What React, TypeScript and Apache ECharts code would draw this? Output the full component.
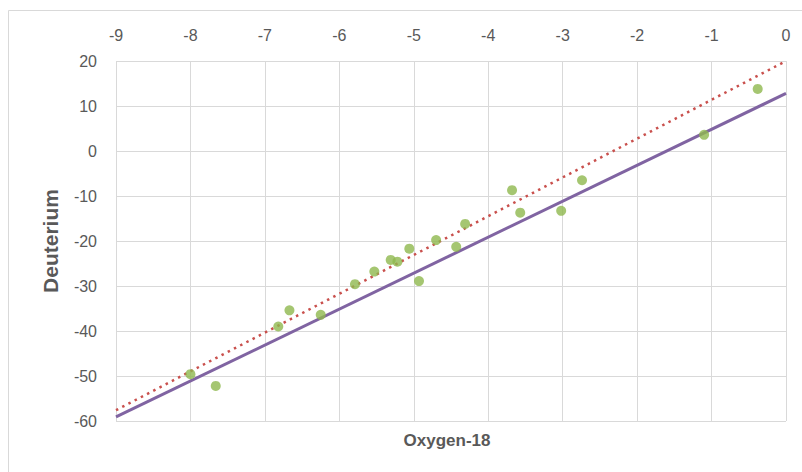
import React, { useEffect, useRef } from "react";
import * as echarts from "echarts";

// Oxygen-18 vs Deuterium samples
const oxygen18 = [
  -8.0, -7.66, -6.82, -6.67, -6.25, -5.79, -5.53, -5.31, -5.22, -5.06,
  -4.93, -4.7, -4.43, -4.31, -3.68, -3.57, -3.02, -2.74, -1.1, -0.38,
];
const deuterium = [
  -49.6, -52.2, -39.0, -35.4, -36.4, -29.6, -26.8, -24.2, -24.6, -21.7,
  -28.9, -19.8, -21.3, -16.2, -8.7, -13.7, -13.3, -6.5, 3.6, 13.8,
];

// Reference lines given by their end points
const solidLineX = [-9, 0];
const solidLineY = [-59.1, 12.8];
const dottedLineX = [-9, 0];
const dottedLineY = [-57.6, 20];

const xTicks = { min: -9, max: 0, step: 1 };
const yTicks = { min: -60, max: 20, step: 10 };

const labelGrey = "#595959";
const gridGrey = "#d9d9d9";

export default function App() {
  const ref = useRef<HTMLDivElement>(null);

  useEffect(() => {
    if (!ref.current) return;
    const chart = echarts.init(ref.current, undefined, { renderer: "svg" });
    const font = "'Liberation Sans', Arial, sans-serif";

    chart.setOption({
      animation: false,
      backgroundColor: "#ffffff",
      grid: { left: 116, right: 16, top: 61, bottom: 51 },
      xAxis: {
        type: "value",
        position: "top",
        min: xTicks.min,
        max: xTicks.max,
        interval: xTicks.step,
        axisLine: { show: false },
        axisTick: { show: false },
        axisLabel: { color: labelGrey, fontSize: 16, fontFamily: font, margin: 18 },
        splitLine: { show: true, lineStyle: { color: gridGrey, width: 1 } },
      },
      yAxis: {
        type: "value",
        min: yTicks.min,
        max: yTicks.max,
        interval: yTicks.step,
        axisLine: { show: false },
        axisTick: { show: false },
        axisLabel: { color: labelGrey, fontSize: 16, fontFamily: font, margin: 19 },
        splitLine: { show: true, lineStyle: { color: gridGrey, width: 1 } },
        name: "Deuterium",
        nameLocation: "middle",
        nameRotate: 90,
        nameGap: 55,
        nameTextStyle: {
          color: labelGrey,
          fontSize: 21,
          fontWeight: "bold",
          fontFamily: font,
        },
      },
      graphic: [
        {
          type: "rect",
          shape: { x: 8.5, y: 10.5, width: 800, height: 470 },
          style: { fill: "none", stroke: gridGrey, lineWidth: 1 },
          silent: true,
        },
        {
          type: "text",
          x: 447,
          y: 440,
          style: {
            text: "Oxygen-18",
            fill: labelGrey,
            fontSize: 17,
            fontWeight: "bold",
            fontFamily: font,
            textAlign: "center",
            textVerticalAlign: "middle",
          },
        },
      ],
      series: [
        {
          type: "line",
          data: dottedLineX.map((x, i) => [x, dottedLineY[i]]),
          symbol: "none",
          lineStyle: { color: "#C9504D", width: 2.5, type: [2.5, 4.5] },
          z: 3,
        },
        {
          type: "line",
          data: solidLineX.map((x, i) => [x, solidLineY[i]]),
          symbol: "none",
          lineStyle: { color: "#8064A2", width: 3 },
          z: 3,
        },
        {
          type: "scatter",
          data: oxygen18.map((x, i) => [x, deuterium[i]]),
          symbol: "circle",
          symbolSize: 10,
          itemStyle: { color: "#8FB84E" },
          z: 4,
        },
      ],
    });

    return () => chart.dispose();
  }, []);

  return (
    <div
      ref={ref}
      style={{ position: "fixed", left: 0, top: 0, width: 802, height: 472 }}
    />
  );
}
